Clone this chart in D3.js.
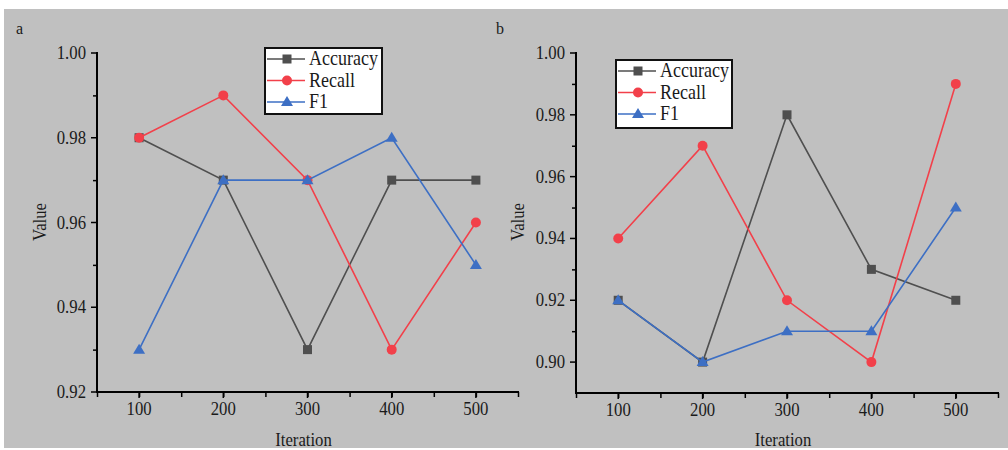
<!DOCTYPE html>
<html>
<head>
<meta charset="utf-8">
<script src="https://cdn.jsdelivr.net/npm/d3@7"></script>
<style>
  body { margin: 0; background: #fff; }
  text { font-family: "Liberation Serif", "DejaVu Serif", serif; fill: #1a1a1a; }
</style>
</head>
<body>
<svg id="chart" width="1008" height="450"></svg>
<script>
var iterations = [100, 200, 300, 400, 500]
var seriesNames = ["Accuracy", "Recall", "F1"]
var colors = ["#4f4f4f", "#f2404a", "#3d6fc4"]
var shapes = ["square", "circle", "triangle"]

// panel a
var accuracyA = [0.98, 0.97, 0.93, 0.97, 0.97]
var recallA = [0.98, 0.99, 0.97, 0.93, 0.96]
var f1A = [0.93, 0.97, 0.97, 0.98, 0.95]
var yTicksA = [0.92, 0.94, 0.96, 0.98, 1.00]

// panel b
var accuracyB = [0.92, 0.90, 0.98, 0.93, 0.92]
var recallB = [0.94, 0.97, 0.92, 0.90, 0.99]
var f1B = [0.92, 0.90, 0.91, 0.91, 0.95]
var yTicksB = [0.90, 0.92, 0.94, 0.96, 0.98, 1.00]

var xTicks = [50, 100, 150, 200, 250, 300, 350, 400, 450, 500, 550]

var svg = d3.select("#chart")

// gray backdrop
svg.append("rect")
  .attr("x", 4).attr("y", 9)
  .attr("width", 1004).attr("height", 439)
  .attr("fill", "#c0c0c0")

function squeeze(sel, sx) {
  // the reference text is narrow, so squash it horizontally
  sel.each(function() {
    var t = d3.select(this)
    var x = +t.attr("x"), y = +t.attr("y")
    t.attr("x", 0).attr("y", 0)
      .attr("transform", "translate(" + x + "," + y + ") scale(" + sx + ",1)")
  })
}

function drawMarker(g, shape, cx, cy, color) {
  if (shape == "square") {
    g.append("rect").attr("x", cx - 4.5).attr("y", cy - 4.5)
      .attr("width", 9).attr("height", 9).attr("fill", color)
  } else if (shape == "circle") {
    g.append("circle").attr("cx", cx).attr("cy", cy).attr("r", 5).attr("fill", color)
  } else {
    g.append("path")
      .attr("d", "M" + cx + "," + (cy - 6) + "L" + (cx + 6) + "," + (cy + 4) + "L" + (cx - 6) + "," + (cy + 4) + "Z")
      .attr("fill", color)
  }
}

function panel(opts) {
  var x = d3.scaleLinear().domain([50, 550]).range([opts.left, opts.right])
  var y = d3.scaleLinear().domain(opts.yDomain).range([opts.bottom, opts.top])
  var g = svg.append("g")

  // minor ticks
  g.append("g").attr("transform", "translate(" + opts.left + ",0)")
    .call(d3.axisLeft(y).tickValues(opts.yMinor).tickSize(4).tickFormat(""))
  g.append("g").attr("transform", "translate(0," + opts.bottom + ")")
    .call(d3.axisBottom(x).tickValues(xTicks).tickSize(5).tickFormat(""))

  // major ticks with labels
  var ya = g.append("g").attr("transform", "translate(" + opts.left + ",0)")
    .call(d3.axisLeft(y).tickValues(opts.yTicks).tickSize(6).tickFormat(d3.format(".2f")))
  var xa = g.append("g").attr("transform", "translate(0," + opts.bottom + ")")
    .call(d3.axisBottom(x).tickValues(iterations).tickSize(6))

  g.selectAll(".domain").remove()
  g.selectAll(".tick line").attr("stroke", "#000").attr("stroke-width", 1.5)
  g.selectAll("g").attr("font-family", null).attr("font-size", null)

  // move tick labels out of their groups so they can be squashed
  ya.selectAll(".tick text").each(function(d) {
    d3.select(this).attr("x", opts.left - 11).attr("y", y(d) + 6).attr("dy", null)
      .attr("text-anchor", "end")
  })
  xa.selectAll(".tick text").each(function(d) {
    d3.select(this).attr("x", x(d)).attr("y", opts.bottom + 23).attr("dy", null)
      .attr("text-anchor", "middle")
  })
  ya.selectAll(".tick line").each(function(d) {
    d3.select(this).attr("y1", y(d)).attr("y2", y(d)).attr("x1", opts.left).attr("x2", opts.left - 6)
  })
  xa.selectAll(".tick line").each(function(d) {
    d3.select(this).attr("x1", x(d)).attr("x2", x(d)).attr("y1", opts.bottom).attr("y2", opts.bottom + 6)
  })
  ya.attr("transform", null).selectAll(".tick").attr("transform", null)
  xa.attr("transform", null).selectAll(".tick").attr("transform", null)
  g.selectAll(".tick text").attr("font-size", 19).attr("fill", "#2a2a2a")
  squeeze(g.selectAll(".tick text"), 0.88)

  // axis lines
  g.append("line").attr("x1", opts.left).attr("x2", opts.left)
    .attr("y1", opts.top - 1).attr("y2", opts.bottom + 1)
    .attr("stroke", "#000").attr("stroke-width", 2)
  g.append("line").attr("x1", opts.left - 1).attr("x2", opts.right + 1)
    .attr("y1", opts.bottom).attr("y2", opts.bottom)
    .attr("stroke", "#000").attr("stroke-width", 2)

  // titles
  var tt = g.append("text").attr("x", (opts.left + opts.right) / 2 - 4).attr("y", 446)
    .attr("text-anchor", "middle").attr("font-size", 19).text("Iteration")
  squeeze(tt, 0.88)
  g.append("text").attr("text-anchor", "middle").attr("font-size", 19).text("Value")
    .attr("transform", "translate(" + opts.valueX + ",222) rotate(-90) scale(0.88,1)")
  g.append("text").attr("x", opts.label[0]).attr("y", opts.label[1])
    .attr("font-size", 16).text(opts.name)

  // lines and markers
  var line = d3.line().x(function(d, i) { return x(iterations[i]) }).y(function(d) { return y(d) })
  opts.series.forEach(function(vals, k) {
    g.append("path").datum(vals).attr("d", line)
      .attr("fill", "none").attr("stroke", colors[k]).attr("stroke-width", 1.6)
    vals.forEach(function(v, i) {
      drawMarker(g, shapes[k], x(iterations[i]), y(v), colors[k])
    })
  })

  // legend
  var L = opts.legend
  g.append("rect").attr("x", L.x).attr("y", L.y).attr("width", L.w).attr("height", L.h)
    .attr("fill", "#fff").attr("stroke", "#111").attr("stroke-width", 2)
  seriesNames.forEach(function(n, k) {
    var ly = L.y + 11 + k * 21.5
    g.append("line").attr("x1", L.x + 2).attr("x2", L.x + 40).attr("y1", ly).attr("y2", ly)
      .attr("stroke", colors[k]).attr("stroke-width", 1.6)
    drawMarker(g, shapes[k], L.x + 22, ly, colors[k])
    var t = g.append("text").attr("x", L.x + 44).attr("y", ly + 6)
      .attr("font-size", 20).text(n)
    squeeze(t, 0.9)
  })
}

panel({
  name: "a", label: [16, 34], valueX: 46,
  left: 97, right: 518, top: 53, bottom: 392,
  yDomain: [0.92, 1.00], yTicks: yTicksA,
  yMinor: [0.93, 0.95, 0.97, 0.99],
  series: [accuracyA, recallA, f1A],
  legend: { x: 265, y: 48, w: 117, h: 66 }
})

panel({
  name: "b", label: [496, 34], valueX: 524,
  left: 576, right: 998, top: 53, bottom: 393,
  yDomain: [0.89, 1.00], yTicks: yTicksB,
  yMinor: [0.91, 0.93, 0.95, 0.97, 0.99],
  series: [accuracyB, recallB, f1B],
  legend: { x: 616, y: 60, w: 116, h: 68 }
})
</script>
</body>
</html>
